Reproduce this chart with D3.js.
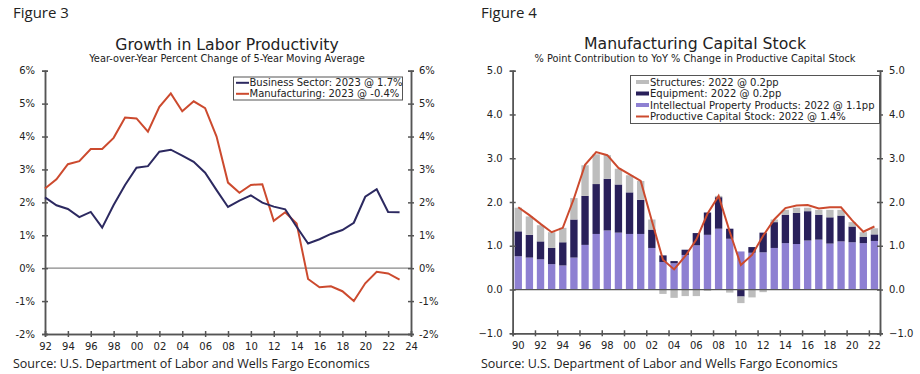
<!DOCTYPE html>
<html>
<head>
<meta charset="utf-8">
<script src="https://cdn.jsdelivr.net/npm/d3@7"></script>
<style>
  body { margin: 0; background: #fff; }
  svg { display: block; }
  .fig { font-family: "Open Sans", sans-serif; fill: #222; }
  .chart text { font-family: "DejaVu Sans", Verdana, sans-serif; fill: #222; }
  .axis path, .axis line { stroke: #555; stroke-width: 1.5; }
  .axis text { font-size: 10px; }
</style>
</head>
<body>
<svg width="920" height="374"></svg>
<script>
// Figure 3: labor productivity, 5-yr moving avg, yoy %
var prodYears = d3.range(1992, 2024);
var businessSector = [2.15, 1.91, 1.80, 1.55, 1.71, 1.23, 1.92, 2.53, 3.05, 3.10, 3.54, 3.60, 3.42, 3.23, 2.90, 2.37,
                      1.86, 2.05, 2.21, 1.99, 1.87, 1.79, 1.26, 0.75, 0.88, 1.04, 1.16, 1.38, 2.17, 2.40, 1.71, 1.70];
var manufacturing = [2.42, 2.70, 3.16, 3.25, 3.62, 3.62, 3.96, 4.58, 4.55, 4.15, 4.90, 5.31, 4.77, 5.07, 4.86, 4.00,
                     2.60, 2.29, 2.53, 2.55, 1.44, 1.70, 1.36, -0.33, -0.58, -0.55, -0.70, -1.00, -0.46, -0.11, -0.16, -0.35];
var prodTicks = [-2, -1, 0, 1, 2, 3, 4, 5, 6];
var prodYearTicks = d3.range(1992, 2025, 2);

// Figure 4: manufacturing capital stock contributions, pp
var capYears = d3.range(1990, 2023);
var ipp = [0.76, 0.73, 0.69, 0.58, 0.55, 0.73, 1.02, 1.27, 1.35, 1.30, 1.27, 1.27, 0.95, 0.63, 0.60, 0.79, 1.01,
           1.25, 1.39, 1.16, 0.87, 0.84, 0.85, 0.95, 1.06, 1.04, 1.12, 1.14, 1.05, 1.10, 1.08, 1.06, 1.11];
var equipment = [0.57, 0.52, 0.41, 0.37, 0.53, 0.87, 1.12, 1.14, 1.18, 1.10, 0.95, 0.78, 0.42, 0.15, 0.05, 0.12, 0.28,
                 0.51, 0.72, 0.23, -0.16, 0.13, 0.45, 0.59, 0.65, 0.71, 0.67, 0.57, 0.60, 0.59, 0.36, 0.14, 0.15];
var structures = [0.54, 0.42, 0.37, 0.36, 0.33, 0.49, 0.70, 0.68, 0.54, 0.36, 0.39, 0.43, 0.23, -0.10, -0.19, -0.15, -0.15,
                  -0.03, 0.03, -0.07, -0.15, -0.18, -0.06, 0.06, 0.11, 0.12, 0.08, 0.11, 0.17, 0.13, 0.10, 0.11, 0.14];
var capitalStock = [1.88, 1.70, 1.50, 1.31, 1.41, 2.08, 2.85, 3.14, 3.07, 2.78, 2.63, 2.48, 1.57, 0.68, 0.46, 0.76, 1.14,
                    1.73, 2.14, 1.32, 0.56, 0.79, 1.23, 1.60, 1.86, 1.92, 1.93, 1.85, 1.88, 1.88, 1.58, 1.32, 1.44];
var capTicks = [-1, 0, 1, 2, 3, 4, 5];
var capLabelYears = d3.range(1990, 2023, 2);

var navy = '#2c2960', red = '#cc4a2e';
var barColors = {ipp: '#8e80d2', equipment: '#29205a', structures: '#bdbdbd'};

var svg = d3.select('svg');

// figure labels and source lines
svg.append('text').attr('class', 'fig').attr('x', 13).attr('y', 18).style('font-size', '15px').text('Figure 3');
svg.append('text').attr('class', 'fig').attr('x', 481).attr('y', 18).style('font-size', '15px').text('Figure 4');
svg.append('text').attr('class', 'fig').attr('x', 13).attr('y', 368).style('font-size', '12.5px')
   .text('Source: U.S. Department of Labor and Wells Fargo Economics');
svg.append('text').attr('class', 'fig').attr('x', 481).attr('y', 368).style('font-size', '12.5px')
   .text('Source: U.S. Department of Labor and Wells Fargo Economics');

// ---------- left chart ----------
var g1 = svg.append('g').attr('class', 'chart');
var x1 = d3.scaleLinear().domain([1992, 2024]).range([45, 411]);
var y1 = d3.scaleLinear().domain([-2, 6]).range([334, 70.7]);

g1.append('text').attr('x', 227).attr('y', 50).attr('text-anchor', 'middle')
  .style('font-size', '15.7px').text('Growth in Labor Productivity');
g1.append('text').attr('x', 227).attr('y', 62).attr('text-anchor', 'middle')
  .style('font-size', '9.8px').text('Year-over-Year Percent Change of 5-Year Moving Average');

g1.append('line')
  .attr('x1', x1(1992)).attr('x2', x1(2024))
  .attr('y1', y1(0)).attr('y2', y1(0))
  .attr('stroke', '#888').attr('stroke-width', 1.2);

var pctFmt = d => d + '%';
g1.append('g').attr('class', 'axis').attr('transform', 'translate(45,0)')
  .call(d3.axisLeft(y1).tickValues(prodTicks).tickFormat(pctFmt).tickSize(3).tickPadding(7));
g1.append('g').attr('class', 'axis').attr('transform', 'translate(45,0)')
  .call(d3.axisRight(y1).tickValues(prodTicks).tickFormat('').tickSize(3));
g1.append('g').attr('class', 'axis').attr('transform', 'translate(411,0)')
  .call(d3.axisRight(y1).tickValues(prodTicks).tickFormat(pctFmt).tickSize(3).tickPadding(5));
g1.append('g').attr('class', 'axis').attr('transform', 'translate(411,0)')
  .call(d3.axisLeft(y1).tickValues(prodTicks).tickFormat('').tickSize(3));
g1.append('g').attr('class', 'axis').attr('transform', 'translate(0,334)')
  .call(d3.axisBottom(x1).tickValues(prodYearTicks).tickFormat(d => String(d).slice(2)).tickSize(3).tickPadding(6));
g1.append('g').attr('class', 'axis').attr('transform', 'translate(0,334)')
  .call(d3.axisTop(x1).tickValues(prodYearTicks).tickFormat('').tickSize(3));

var line1 = d3.line().x((d, i) => x1(prodYears[i])).y(d => y1(d));
g1.append('path').datum(manufacturing)
  .attr('fill', 'none').attr('stroke', red).attr('stroke-width', 2).attr('d', line1);
g1.append('path').datum(businessSector)
  .attr('fill', 'none').attr('stroke', navy).attr('stroke-width', 2).attr('d', line1);

var leg1 = g1.append('g');
leg1.append('rect').attr('x', 233.5).attr('y', 77).attr('width', 169).attr('height', 23)
    .attr('fill', '#fff').attr('stroke', '#555').attr('stroke-width', 1);
[['Business Sector: 2023 @ 1.7%', navy], ['Manufacturing: 2023 @ -0.4%', red]].forEach(function(r, i) {
  var yy = 86.3 + i * 11;
  leg1.append('line').attr('x1', 236).attr('x2', 249).attr('y1', yy - 3.5).attr('y2', yy - 3.5)
      .attr('stroke', r[1]).attr('stroke-width', 2);
  leg1.append('text').attr('x', 249.5).attr('y', yy).style('font-size', '10px').text(r[0]);
});

// ---------- right chart ----------
var g2 = svg.append('g').attr('class', 'chart');
var x2 = d3.scaleBand().domain(capYears).range([512.7, 880]).paddingInner(0.34).paddingOuter(0.17);
var y2 = d3.scaleLinear().domain([-1, 5]).range([333.3, 70.7]);

g2.append('text').attr('x', 695).attr('y', 49).attr('text-anchor', 'middle')
  .style('font-size', '15.7px').text('Manufacturing Capital Stock');
g2.append('text').attr('x', 695).attr('y', 61.5).attr('text-anchor', 'middle')
  .style('font-size', '9.8px').text('% Point Contribution to YoY % Change in Productive Capital Stock');

var table = capYears.map((yr, i) => ({year: yr, ipp: ipp[i], equipment: equipment[i], structures: structures[i]}));
var series = d3.stack().keys(['ipp', 'equipment', 'structures'])
  .offset(d3.stackOffsetDiverging)(table);

g2.selectAll('.layer').data(series).enter().append('g')
  .attr('class', 'layer').attr('fill', d => barColors[d.key])
  .selectAll('rect').data(d => d).enter().append('rect')
    .attr('x', d => x2(d.data.year))
    .attr('width', x2.bandwidth())
    .attr('y', d => y2(Math.max(d[0], d[1])))
    .attr('height', d => Math.abs(y2(d[0]) - y2(d[1])));

g2.append('line')
  .attr('x1', 512.7).attr('x2', 880).attr('y1', y2(0)).attr('y2', y2(0))
  .attr('stroke', '#555').attr('stroke-width', 1.2);

var fmt1 = d3.format('.1f');
g2.append('g').attr('class', 'axis').attr('transform', 'translate(512.7,0)')
  .call(d3.axisLeft(y2).tickValues(capTicks).tickFormat(fmt1).tickSize(3).tickPadding(7));
g2.append('g').attr('class', 'axis').attr('transform', 'translate(512.7,0)')
  .call(d3.axisRight(y2).tickValues(capTicks).tickFormat('').tickSize(3));
g2.append('g').attr('class', 'axis').attr('transform', 'translate(880,0)')
  .call(d3.axisRight(y2).tickValues(capTicks).tickFormat(fmt1).tickSize(3).tickPadding(6));
g2.append('g').attr('class', 'axis').attr('transform', 'translate(880,0)')
  .call(d3.axisLeft(y2).tickValues(capTicks).tickFormat('').tickSize(3));

// ticks at band boundaries every two years, labels under bar centres
var xb = d3.scaleLinear().domain([1989.5, 2022.5]).range([512.7, 880]);
g2.append('g').attr('class', 'axis').attr('transform', 'translate(0,333.3)')
  .call(d3.axisBottom(xb).tickValues(d3.range(1989.5, 2023, 2)).tickFormat('').tickSize(3));
g2.append('g').attr('class', 'axis').attr('transform', 'translate(0,333.3)')
  .call(d3.axisTop(xb).tickValues(d3.range(1989.5, 2023, 2)).tickFormat('').tickSize(3));
var xLab = g2.append('g').attr('class', 'axis').attr('transform', 'translate(0,333.3)')
  .call(d3.axisBottom(x2).tickValues(capLabelYears).tickFormat(d => String(d).slice(2)).tickSize(0).tickPadding(9));
xLab.select('.domain').remove();

var line2 = d3.line().x((d, i) => x2(capYears[i]) + x2.bandwidth() / 2).y(d => y2(d));
g2.append('path').datum(capitalStock)
  .attr('fill', 'none').attr('stroke', red).attr('stroke-width', 2).attr('d', line2);

var leg2 = g2.append('g');
leg2.append('rect').attr('x', 630.5).attr('y', 75.5).attr('width', 249).attr('height', 48)
    .attr('fill', '#fff').attr('stroke', '#555').attr('stroke-width', 1);
[['Structures: 2022 @ 0.2pp', barColors.structures, 'bar'],
 ['Equipment: 2022 @ 0.2pp', barColors.equipment, 'bar'],
 ['Intellectual Property Products: 2022 @ 1.1pp', barColors.ipp, 'bar'],
 ['Productive Capital Stock: 2022 @ 1.4%', red, 'line']].forEach(function(r, i) {
  var yy = 85.5 + i * 11.5;
  if (r[2] === 'bar') {
    leg2.append('rect').attr('x', 636).attr('y', yy - 5.5).attr('width', 13).attr('height', 4).attr('fill', r[1]);
  } else {
    leg2.append('line').attr('x1', 636).attr('x2', 649).attr('y1', yy - 3.5).attr('y2', yy - 3.5)
        .attr('stroke', r[1]).attr('stroke-width', 2);
  }
  leg2.append('text').attr('x', 650).attr('y', yy).style('font-size', '10px').text(r[0]);
});
</script>
</body>
</html>
